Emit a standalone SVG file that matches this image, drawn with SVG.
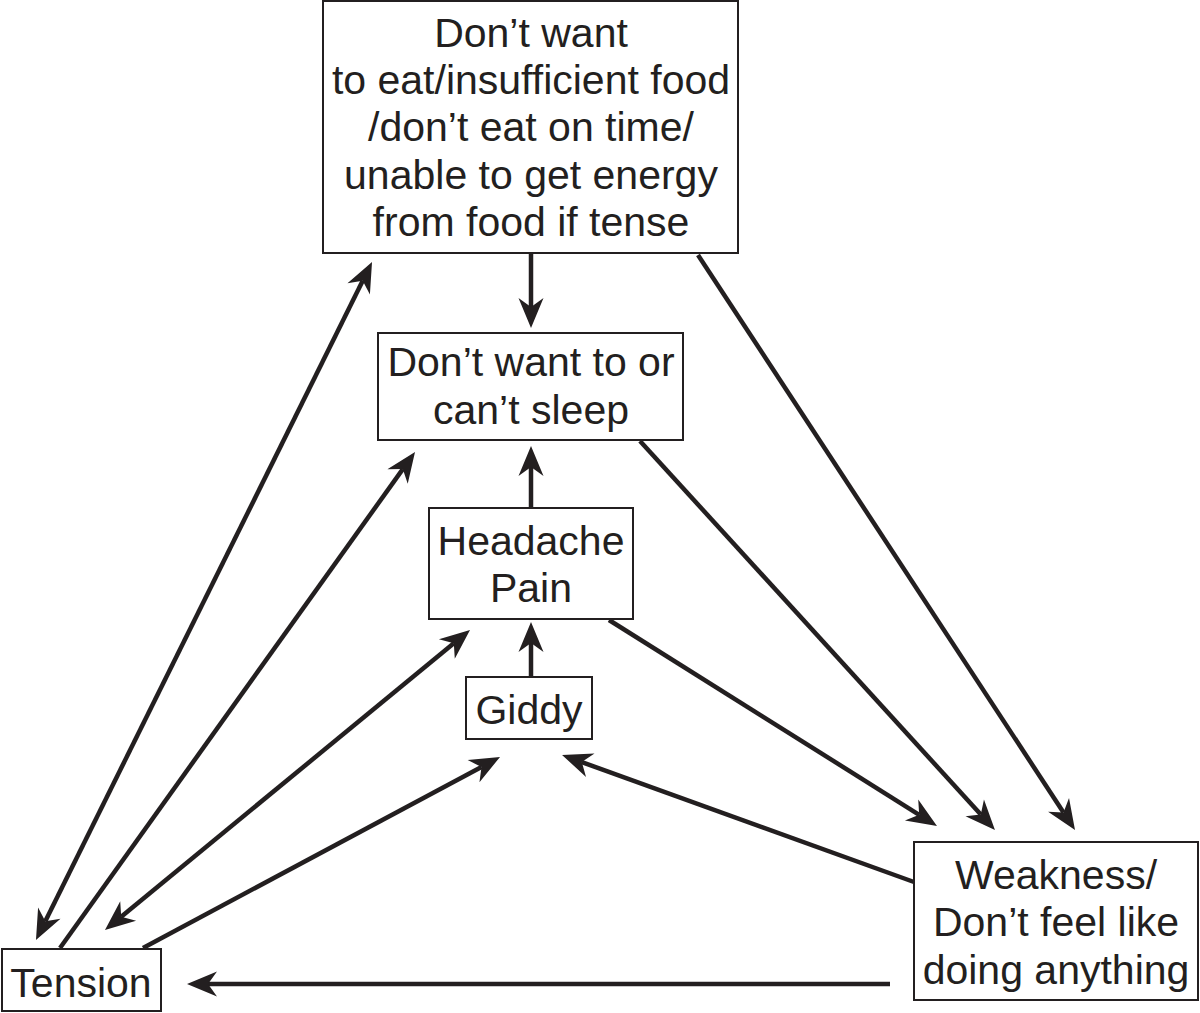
<svg xmlns="http://www.w3.org/2000/svg" width="1200" height="1013" viewBox="0 0 1200 1013">
<style>
.box{fill:#fff;stroke:#231f20;stroke-width:2}
.t{font-family:"Liberation Sans",Arial,sans-serif;font-size:41px;fill:#231f20;text-anchor:middle}
.c{stroke:#231f20;stroke-width:4.5;fill:none}
</style>
<defs>
<marker id="ah" markerUnits="userSpaceOnUse" markerWidth="32" markerHeight="26" viewBox="0 -13 32 26" refX="9" refY="0" orient="auto-start-reverse" overflow="visible">
<path d="M30,0 L0,-12.5 L9,0 L0,12.5 Z" fill="#231f20"/>
</marker>
</defs>
<rect width="1200" height="1013" fill="#fff"/>
<g id="connectors">
<line class="c" x1="531" y1="253" x2="531" y2="307" marker-end="url(#ah)"/>
<line class="c" x1="531" y1="508" x2="531" y2="467" marker-end="url(#ah)"/>
<line class="c" x1="531" y1="677" x2="531" y2="643" marker-end="url(#ah)"/>
<line class="c" x1="45.3" y1="921.2" x2="362.7" y2="280.8" marker-start="url(#ah)" marker-end="url(#ah)"/>
<line class="c" x1="60" y1="948" x2="402.8" y2="469.1" marker-end="url(#ah)"/>
<line class="c" x1="121.2" y1="916.7" x2="453.8" y2="643.3" marker-start="url(#ah)" marker-end="url(#ah)"/>
<line class="c" x1="143" y1="948" x2="481.5" y2="766.9" marker-end="url(#ah)"/>
<line class="c" x1="914" y1="882" x2="581.8" y2="762.1" marker-end="url(#ah)"/>
<line class="c" x1="609" y1="620" x2="919.2" y2="814.8" marker-end="url(#ah)"/>
<line class="c" x1="640" y1="441" x2="980.8" y2="814.5" marker-end="url(#ah)"/>
<line class="c" x1="698" y1="255" x2="1063.5" y2="812.4" marker-end="url(#ah)"/>
<line class="c" x1="890" y1="984" x2="208" y2="984" marker-end="url(#ah)"/>
</g>
<g id="food">
<rect class="box" x="323" y="1" width="415" height="252"/>
<text class="t" x="531" y="47">Don’t want</text>
<text class="t" x="531" y="94">to eat/insufficient food</text>
<text class="t" x="531" y="141">/don’t eat on time/</text>
<text class="t" x="531" y="189">unable to get energy</text>
<text class="t" x="531" y="236">from food if tense</text>
</g>
<g id="sleep">
<rect class="box" x="378" y="333" width="305" height="107"/>
<text class="t" x="531" y="376">Don’t want to or</text>
<text class="t" x="531" y="424">can’t sleep</text>
</g>
<g id="headache">
<rect class="box" x="429" y="508" width="204" height="111"/>
<text class="t" x="531" y="555">Headache</text>
<text class="t" x="531" y="602">Pain</text>
</g>
<g id="giddy">
<rect class="box" x="466" y="677" width="126" height="62"/>
<text class="t" x="529" y="724">Giddy</text>
</g>
<g id="weakness">
<rect class="box" x="914" y="842" width="284" height="158"/>
<text class="t" x="1056" y="889">Weakness/</text>
<text class="t" x="1056" y="936">Don’t feel like</text>
<text class="t" x="1056" y="984">doing anything</text>
</g>
<g id="tension">
<rect class="box" x="2" y="949" width="159" height="62"/>
<text class="t" x="81" y="997">Tension</text>
</g>
</svg>
